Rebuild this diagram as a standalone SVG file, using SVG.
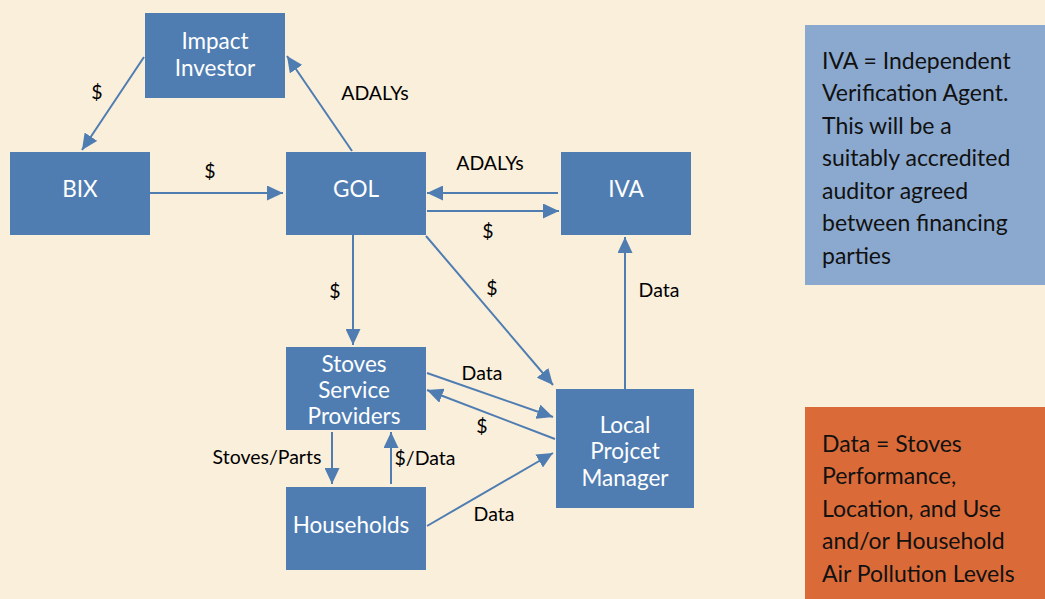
<svg xmlns="http://www.w3.org/2000/svg" width="1045" height="599" viewBox="0 0 1045 599">
<style>
.node{fill:#4F7DB2}
.nt{font-family:Lato,"Open Sans",sans-serif;font-size:22.5px;fill:#ffffff;text-anchor:middle;dominant-baseline:central}
.lb{font-family:Lato,"Open Sans",sans-serif;font-size:19.5px;fill:#000;text-anchor:middle;dominant-baseline:central}
.note{font-family:Lato,"Open Sans",sans-serif;font-size:23px;fill:#111;dominant-baseline:central}
.c{stroke:#4F7DB2;stroke-width:2;fill:none;marker-end:url(#ah)}
</style>
<defs>
<marker id="ah" markerUnits="userSpaceOnUse" markerWidth="17" markerHeight="15" refX="16" refY="7.5" orient="auto">
<path d="M0,0 L16,7.5 L0,15 z" fill="#4F7DB2"/>
</marker>
</defs>
<rect width="1045" height="599" fill="#FAEFDB"/>
<g id="connectors">
<line class="c" x1="144" y1="57" x2="82" y2="150"/>
<line class="c" x1="352" y1="151" x2="287" y2="56"/>
<line class="c" x1="150" y1="193" x2="283" y2="193"/>
<line class="c" x1="558" y1="193" x2="427" y2="193"/>
<line class="c" x1="427" y1="211" x2="559" y2="211"/>
<line class="c" x1="353" y1="235" x2="353" y2="345"/>
<line class="c" x1="426" y1="236" x2="553" y2="385"/>
<line class="c" x1="625" y1="389" x2="625" y2="237"/>
<line class="c" x1="427" y1="373" x2="553" y2="417"/>
<line class="c" x1="555" y1="439" x2="427" y2="390"/>
<line class="c" x1="332" y1="432" x2="332" y2="484"/>
<line class="c" x1="391" y1="484" x2="391" y2="432"/>
<line class="c" x1="427" y1="526" x2="553" y2="453"/>
<text class="lb" x="97" y="91">$</text>
<text class="lb" x="210" y="170">$</text>
<text class="lb" x="375" y="92">ADALYs</text>
<text class="lb" x="490" y="162">ADALYs</text>
<text class="lb" x="488" y="230">$</text>
<text class="lb" x="335" y="290">$</text>
<text class="lb" x="492" y="287">$</text>
<text class="lb" x="659" y="289">Data</text>
<text class="lb" x="482" y="372">Data</text>
<text class="lb" x="482" y="425">$</text>
<text class="lb" x="267" y="456">Stoves/Parts</text>
<text class="lb" x="425" y="457">$/Data</text>
<text class="lb" x="494" y="513">Data</text>
</g>
<g id="impact-investor">
<rect class="node" x="145" y="13" width="140" height="85"/>
<text class="nt" x="215" y="40">Impact</text>
<text class="nt" x="215" y="67">Investor</text>
</g>
<g id="bix">
<rect class="node" x="10" y="152" width="140" height="83"/>
<text class="nt" x="80" y="188">BIX</text>
</g>
<g id="gol">
<rect class="node" x="286" y="152" width="140" height="83"/>
<text class="nt" x="356" y="188">GOL</text>
</g>
<g id="iva">
<rect class="node" x="561" y="152" width="130" height="83"/>
<text class="nt" x="626" y="188">IVA</text>
</g>
<g id="stoves-service-providers">
<rect class="node" x="286" y="347" width="140" height="83"/>
<text class="nt" x="354" y="363">Stoves</text>
<text class="nt" x="354" y="389">Service</text>
<text class="nt" x="354" y="415">Providers</text>
</g>
<g id="households">
<rect class="node" x="286" y="487" width="140" height="83"/>
<text class="nt" x="351" y="524">Households</text>
</g>
<g id="local-project-manager">
<rect class="node" x="556" y="389" width="138" height="119"/>
<text class="nt" x="625" y="424">Local</text>
<text class="nt" x="625" y="450">Projcet</text>
<text class="nt" x="625" y="477">Manager</text>
</g>
<g id="iva-note">
<rect x="805" y="25" width="240" height="260" fill="#8BA9CF"/>
<text class="note" x="822" y="60">IVA = Independent</text>
<text class="note" x="822" y="92">Verification Agent.</text>
<text class="note" x="822" y="125">This will be a</text>
<text class="note" x="822" y="157">suitably accredited</text>
<text class="note" x="822" y="190">auditor agreed</text>
<text class="note" x="822" y="222">between financing</text>
<text class="note" x="822" y="255">parties</text>
</g>
<g id="data-note">
<rect x="805" y="407" width="240" height="192" fill="#DA6B39"/>
<text class="note" x="822" y="443">Data = Stoves</text>
<text class="note" x="822" y="475">Performance,</text>
<text class="note" x="822" y="508">Location, and Use</text>
<text class="note" x="822" y="540">and/or Household</text>
<text class="note" x="822" y="573">Air Pollution Levels</text>
</g>
</svg>
